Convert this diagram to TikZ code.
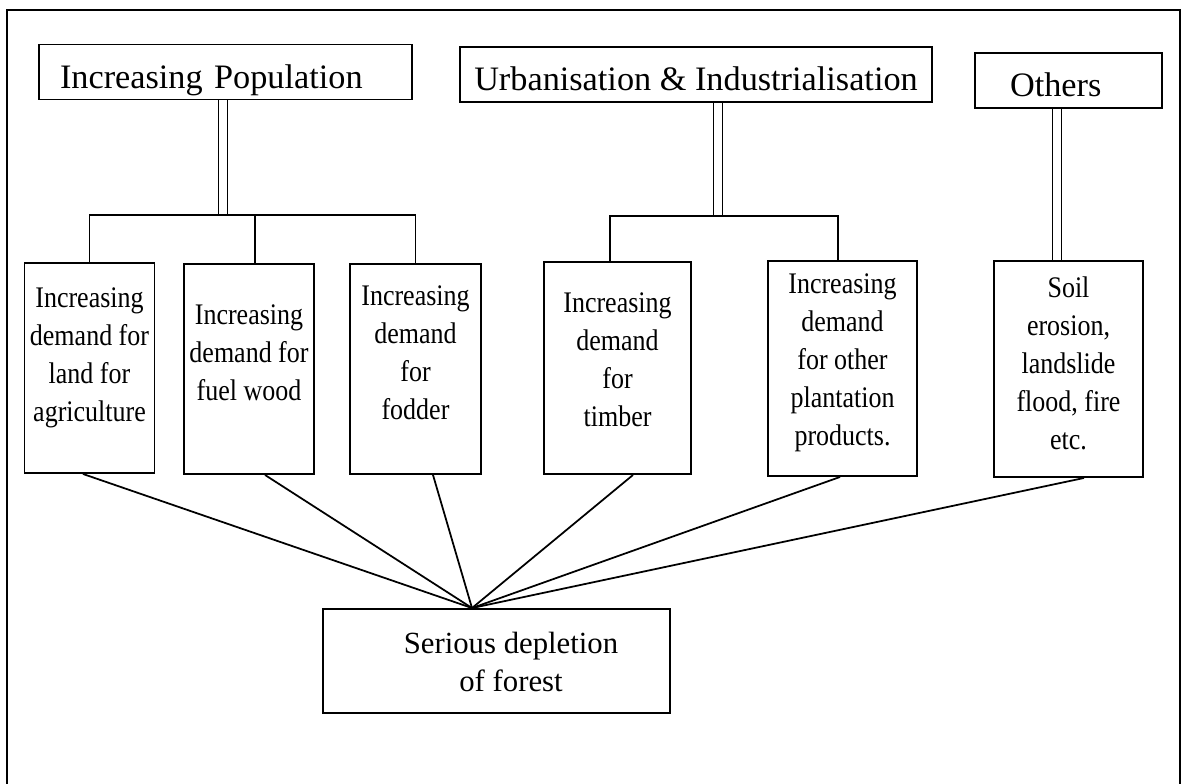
\documentclass[tikz,border=0pt]{standalone}
\usepackage{fontspec}
\setmainfont{Liberation Serif}
\newfontfamily\narrowserif[FakeStretch=0.87]{Liberation Serif}
\usepackage{tikz}
\usetikzlibrary{positioning, calc, backgrounds}

\begin{document}
\begin{tikzpicture}[
    link/.style={line width=1pt},
    twin/.style={double, double distance=4.6pt, line width=0.7pt},
    topbox/.style={draw, line width=1.1pt, minimum height=1.1cm,
                   inner sep=2pt, text height=0.78cm, text depth=0.12cm,
                   font=\fontsize{19.5}{23}\selectfont},
    lowbox/.style={draw, line width=1.1pt, minimum width=2.6cm,
                   minimum height=4.2cm},
    lowtext/.style={align=center, inner sep=0pt,
                    font=\narrowserif\fontsize{17}{21.6}\selectfont},
    bottext/.style={align=center, inner sep=0pt,
                    font=\fontsize{17.5}{22}\selectfont}]

    \useasboundingbox (0,0) rectangle (23.82,-15.68);
    \draw[line width=1.1pt] (0.14,-15.68) -- (0.14,-0.20) -- (23.60,-0.20) -- (23.60,-15.68);

    % causes
    \node[topbox, text width=6.62cm, inner xsep=0.42cm, align=left] (pop) at (4.51,-1.44) {Increasing Population};
    \node[topbox, minimum width=9.44cm] (urb) at (13.92,-1.49) {Urbanisation \& Industrialisation};
    \node[topbox, text width=2.34cm, inner xsep=0.70cm, align=left] (oth) at (21.37,-1.61) {Others};

    % demands
    \node[lowbox] (b1) at (1.79,-7.36) {};
    \node[lowbox] (b2) at (4.98,-7.38) {};
    \node[lowbox, minimum width=2.62cm] (b3) at (8.31,-7.38) {};
    \node[lowbox, minimum width=2.94cm, minimum height=4.24cm] (b4) at (12.35,-7.36) {};
    \node[lowbox, minimum width=2.98cm, minimum height=4.30cm] (b5) at (16.85,-7.37) {};
    \node[lowbox, minimum width=2.98cm, minimum height=4.32cm] (b6) at (21.37,-7.38) {};

    \node[lowtext] (b1t) at (1.79,-7.15) {Increasing\\demand for\\land for\\agriculture};
    \node[lowtext] (b2t) at (4.98,-7.05) {Increasing\\demand for\\fuel wood};
    \node[lowtext] (b3t) at (8.31,-7.05) {Increasing\\demand\\for\\fodder};
    \node[lowtext] (b4t) at (12.35,-7.20) {Increasing\\demand\\for\\timber};
    \node[lowtext] (b5t) at (16.85,-7.25) {Increasing\\demand\\for other\\plantation\\products.};
    \node[lowtext] (b6t) at (21.37,-7.27) {Soil\\erosion,\\landslide\\flood, fire\\etc.};

    % result
    \node[lowbox, minimum width=6.94cm, minimum height=2.08cm] (forest) at (9.93,-13.22) {};
    \node[bottext] (forestt) at (10.22,-13.24) {Serious depletion\\of forest};

    \coordinate (popbar) at (4.46,-4.30);
    \coordinate (urbbar) at (14.36,-4.32);
    \coordinate (meet) at ([xshift=-0.49cm]forest.north);

    \draw[link] (b1.north) |- (b3.north |- popbar) -- (b3.north);
    \draw[link] ([xshift=0.12cm]b2.north) -- ([xshift=0.12cm]b2.north |- popbar);
    \draw[link] ([xshift=-0.15cm]b4.north) |- ([xshift=-0.09cm]b5.north |- urbbar) -- ([xshift=-0.09cm]b5.north);

    \begin{scope}[on background layer]
      \draw[twin] (pop.south -| popbar) -- (popbar);
      \draw[twin] (urb.south -| urbbar) -- (urbbar);
      \draw[twin] ([xshift=-0.23cm]oth.south) -- ([xshift=-0.23cm]b6.north);
    \end{scope}

    \foreach \b/\dx in {b1/-0.13, b2/0.32, b3/0.35, b4/0.31, b5/-0.05, b6/0.31}
      \draw[link] ([xshift=\dx cm]\b.south) -- (meet);
\end{tikzpicture}
\end{document}
